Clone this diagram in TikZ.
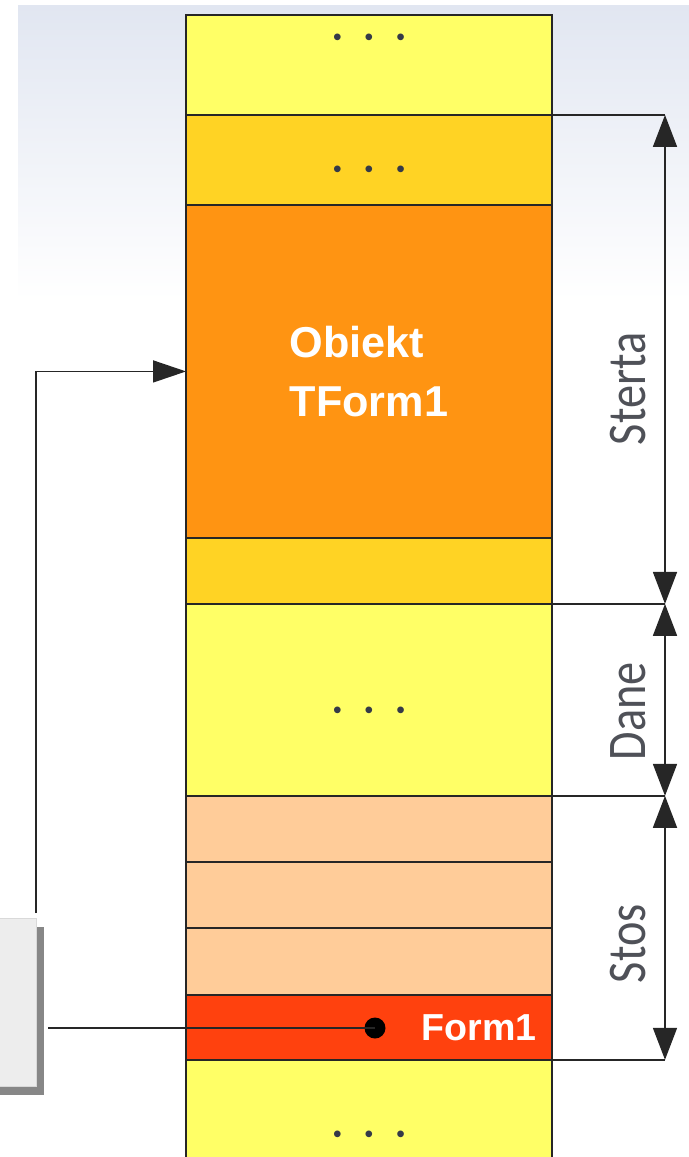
\documentclass[tikz,border=0pt]{standalone}
\usepackage{fontspec}
\setmainfont{Liberation Sans}
\newfontfamily\labelfont[FakeStretch=0.85]{Carlito}
\usetikzlibrary{arrows.meta,positioning,calc,shadows}
\definecolor{cellyellow}{HTML}{FFFF66}
\definecolor{cellgold}{HTML}{FFD324}
\definecolor{cellorange}{HTML}{FF9412}
\definecolor{cellpeach}{HTML}{FFCC99}
\definecolor{cellred}{HTML}{FF410E}
\definecolor{labelgray}{HTML}{4F5158}
\definecolor{dotgray}{HTML}{353A48}
\definecolor{bgblue}{HTML}{E1E6F1}
\newcommand{\threedots}{\textbullet\hspace{0.46cm}\textbullet\hspace{0.46cm}\textbullet}

\begin{document}
\begin{tikzpicture}[x=0.02cm, y=-0.02cm, semithick, node distance=0pt]
\tikzstyle{cell}=[draw=black!85, line width=1pt, minimum width=7.32cm, inner sep=0pt, outer sep=0pt]
\tikzstyle{dotrow}=[text=dotgray, font=\fontsize{14}{14}\selectfont, inner sep=0pt]
\tikzstyle{dimline}=[draw=black!85, line width=0.8pt]
\tikzstyle{dimarrow}=[draw=black!85, line width=1pt, {Triangle[length=0.64cm,width=0.48cm]}-{Triangle[length=0.64cm,width=0.48cm]}]
\tikzstyle{dimlabel}=[rotate=90, anchor=south, inner sep=0.36cm, text=labelgray, font=\labelfont\fontsize{31}{31}\selectfont]
\tikzstyle{pointer}=[draw=black!85, line width=0.85pt]

\useasboundingbox (0,0) rectangle (689,1157);
\shade[top color=bgblue, bottom color=white] (18,5) rectangle (689,300);

\node[cell, fill=cellyellow, minimum height=2cm, anchor=north] (Y1) at (369,15) {};
\node[cell, fill=cellgold, minimum height=1.8cm, below=of Y1] (G1) {};
\node[cell, fill=cellorange, minimum height=6.66cm, below=of G1, align=left, text=white,
      font=\fontsize{24.6}{34}\selectfont\bfseries] (OBJ) {Obiekt\\TForm1};
\node[cell, fill=cellgold, minimum height=1.32cm, below=of OBJ] (G2) {};
\node[cell, fill=cellyellow, minimum height=3.84cm, below=of G2] (DATA) {};
\node[cell, fill=cellpeach, minimum height=1.32cm, below=of DATA] (S1) {};
\node[cell, fill=cellpeach, minimum height=1.32cm, below=of S1] (S2) {};
\node[cell, fill=cellpeach, minimum height=1.34cm, below=of S2] (S3) {};
\node[cell, fill=cellred, minimum height=1.3cm, below=of S3] (FRM) {};
\node[cell, fill=cellyellow, minimum height=2.2cm, below=of FRM] (Y2) {};

\node[dotrow] (D1) at (369,40) {\threedots};
\node[dotrow] (D2) at (369,172) {\threedots};
\node[dotrow] (D3) at (369,713) {\threedots};
\node[dotrow] (D4) at (369,1137) {\threedots};

\node[text=white, inner sep=0pt, font=\fontsize{21.4}{26}\selectfont\bfseries, left=0.3cm of FRM.east] (FRMtxt) {Form1};
\node[circle, fill=black, minimum size=0.42cm, inner sep=0pt] (FRMdot) at (375,1028) {};

\node[draw=black!15, fill=black!7, minimum width=1.54cm, minimum height=3.36cm, anchor=north east,
      drop shadow={shadow xshift=.16cm, shadow yshift=-.16cm, fill=black!47, opacity=1}] (REF) at (37,918) {};

\coordinate (REFtop) at (36,913);
\coordinate (REFout) at (48,1028);
\draw[pointer, -{Triangle[length=0.66cm,width=0.44cm]}] (REFtop) |- (OBJ.west);
\draw[pointer] (REFout) -- (FRMdot.center);

\coordinate (DIMX) at (665,0);
\draw[dimline] (G1.north east) -- (G1.north east -| DIMX);
\draw[dimline] (DATA.north east) -- (DATA.north east -| DIMX);
\draw[dimline] (S1.north east) -- (S1.north east -| DIMX);
\draw[dimline] (FRM.south east) -- (FRM.south east -| DIMX);

\draw[dimarrow] (G1.north east -| DIMX) -- node[dimlabel, pos=.56] (STERTA) {Sterta} (DATA.north east -| DIMX);
\draw[dimarrow] (DATA.north east -| DIMX) -- node[dimlabel, pos=.56] (DANE) {Dane} (S1.north east -| DIMX);
\draw[dimarrow] (S1.north east -| DIMX) -- node[dimlabel, pos=.56] (STOS) {Stos} (FRM.south east -| DIMX);
\end{tikzpicture}
\end{document}
